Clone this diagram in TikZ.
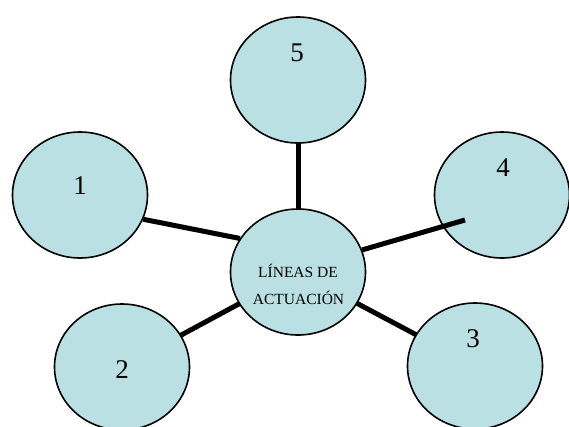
\documentclass[tikz,border=0pt]{standalone}
\usepackage{fontspec}
\setmainfont{Liberation Serif}
\usetikzlibrary{shapes.geometric,backgrounds}
\definecolor{bubble}{RGB}{187,224,227}
\tikzset{
  bub/.style={shape=ellipse, draw=black, line width=1.6pt, fill=bubble,
    minimum width=135pt, minimum height=126pt, inner sep=0pt},
  spoke/.style={line width=5pt, draw=black},
  num/.style={font=\fontsize{27}{30}\selectfont, inner sep=0pt},
  ctext/.style={font=\fontsize{15.5}{18}\selectfont, inner sep=0pt, anchor=base}
}
\begin{document}
\begin{tikzpicture}[x=1pt,y=-1pt]
\useasboundingbox (0,0) rectangle (569,426);
\clip (0,0) rectangle (569,426);
\node[bub] (main) at (298,272) {};
\node[bub] (e5) at (298,80) {};
\node[bub] (e1) at (80,195) {};
\node[bub] (e4) at (502,195) {};
\node[bub] (e2) at (122,367) {};
\node[bub] (e3) at (475,366) {};
\node[num] (t5) at (297,52.5) {5};
\node[num] (t1) at (80,186) {1};
\node[num] (t4) at (503,168) {4};
\node[num] (t2) at (122,370) {2};
\node[num] (t3) at (473,339) {3};
\node[ctext] (l1) at (298,277.5) {LÍNEAS DE};
\node[ctext] (l2) at (298.5,304) {ACTUACIÓN};
\coordinate (p4) at (465,220);
\begin{pgfonlayer}{background}
\draw[spoke] (e5.center) -- (main.center);
\draw[spoke] (e2.center) -- (main.center);
\draw[spoke] (e3.center) -- (main.center);
\draw[spoke] (e1.-21) -- (main.150);
\end{pgfonlayer}
\draw[spoke] (main.19) -- (p4);
\end{tikzpicture}
\end{document}
